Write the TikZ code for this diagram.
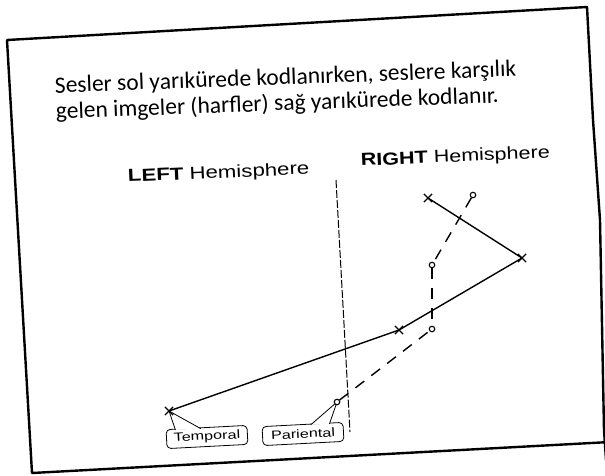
\documentclass[tikz,border=0pt]{standalone}
\usepackage{fontspec}
\usepackage{graphicx}
\setmainfont{Carlito}
\newfontfamily\arialf{Liberation Sans}
\usetikzlibrary{shapes.misc,calc}
\begin{document}
\begin{tikzpicture}[x=1pt,y=-1pt,
  frame/.style={line width=2.4pt, line join=round},
  xmk/.style={draw, cross out, minimum size=7pt, inner sep=0pt, line width=1.2pt},
  omk/.style={draw, circle, fill=white, minimum size=5.5pt, inner sep=0pt, line width=1.1pt},
  solidln/.style={line width=1.4pt},
  dashln/.style={line width=1.4pt, dash pattern=on 11pt off 9pt},
  midln/.style={line width=1pt, dash pattern=on 8pt off 2pt},
  lbl/.style={draw, rounded corners=4pt, minimum width=81pt, minimum height=19pt, inner sep=0pt,
              line width=0.8pt, fill=white, rotate=3, font=\arialf\fontsize{12}{14}\selectfont},
  ptr/.style={fill=white, draw=black, line width=0.8pt},
  hemi/.style={anchor=base west, rotate=2.5, inner sep=0pt, font=\arialf\fontsize{17.5}{20}\selectfont},
  body/.style={anchor=base west, inner sep=0pt, align=left, font=\fontsize{23.5}{26}\selectfont}]
\useasboundingbox (0,0) rectangle (605,475);
\clip (0,0) rectangle (605,475);
\fill[white] (0,0) rectangle (605,475);

% slide frame
\draw[frame] (610,442) -- (32,473) -- (7,40) -- (587,7) -- (593,120) -- (600,220) -- (604,430) -- (606,460);

% texts (base anchor = baseline of the last line)
\node[body, rotate=2.1] (txt) at (56,119) {Sesler sol yarıkürede kodlanırken, seslere karşılık\\gelen imgeler (harfler) sağ yarıkürede kodlanır.};
\node[hemi] (lh) at (128,182) {\scalebox{1.27}[1]{\textbf{LEFT} Hemisphere}};
\node[hemi] (rh) at (361,166) {\scalebox{1.23}[1]{\textbf{RIGHT} Hemisphere}};

% point positions
\coordinate (pT) at (169,411);
\coordinate (pM) at (399,330);
\coordinate (pR) at (522,258);
\coordinate (pU) at (428,198);
\coordinate (qP) at (337,402);
\coordinate (qL) at (432,329);
\coordinate (qQ) at (432,265);
\coordinate (qU) at (473,195);

% midline
\coordinate (mt) at (336,180);
\coordinate (mb) at (350,432);
\draw[midln] (mt) -- (mb);

% labels with pointers
\node[lbl] (tb) at (207,437) {\scalebox{1.35}[1]{Temporal}};
\node[lbl] (pb) at (303,434) {\scalebox{1.35}[1]{Pariental}};
\coordinate (tb1) at ($(tb.north west)!0.12!(tb.north east)+(0,1.2)$);
\coordinate (tb2) at ($(tb.north west)!0.43!(tb.north east)+(0,1.2)$);
\coordinate (pb1) at ($(pb.north west)!0.60!(pb.north east)+(0,1.2)$);
\coordinate (pb2) at ($(pb.north west)!0.83!(pb.north east)+(0,1.2)$);
\filldraw[ptr] (tb1) -- (pT) -- (tb2);
\filldraw[ptr] (pb1) -- (qP) -- (pb2);

% solid path
\draw[solidln] (pT) -- (pM) -- (pR) -- (pU);
\node[xmk] (xt) at (pT) {};
\node[xmk] (xm) at (pM) {};
\node[xmk] (xr) at (pR) {};
\node[xmk] (xu) at (pU) {};

% dashed path
\node[omk] (op) at (qP) {};
\node[omk] (ol) at (qL) {};
\node[omk] (oq) at (qQ) {};
\node[omk] (ou) at (qU) {};
\draw[dashln] (op) -- (ol);
\draw[dashln] (oq) -- (ol);
\draw[dashln] (ou) -- (oq);
\end{tikzpicture}
\end{document}
